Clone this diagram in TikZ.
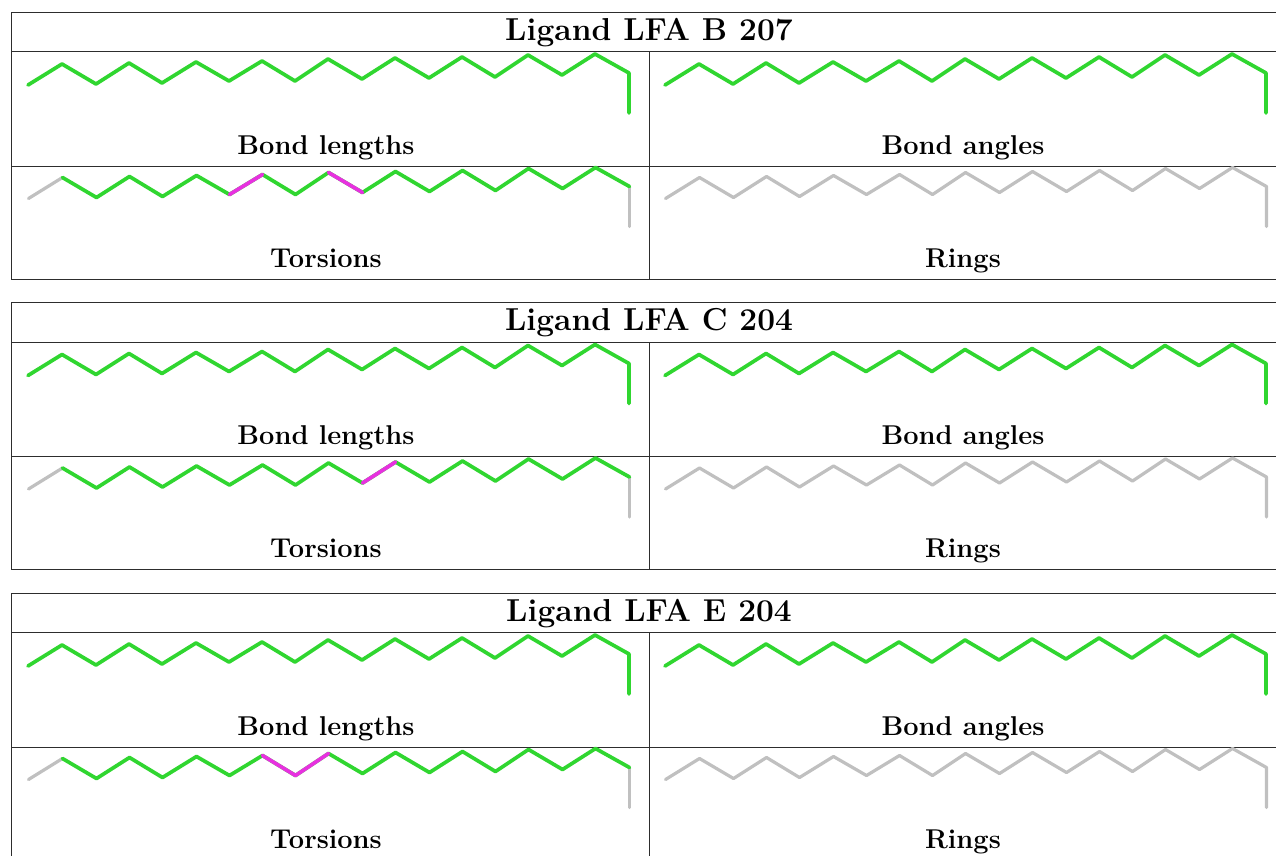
\documentclass[tikz,border=0pt]{standalone}
\usetikzlibrary{calc}
\definecolor{cgreen}{RGB}{48,214,48}
\definecolor{cmag}{RGB}{232,48,224}
\definecolor{cgrey}{RGB}{192,192,192}
\definecolor{rulec}{RGB}{45,45,45}
\tikzset{
  x=1pt,y=-1pt,
  rulel/.style={draw=rulec,line width=1pt},
  bond/.style={line width=3.7pt,line cap=round,line join=round},
  greybond/.style={line width=3.2pt,line cap=round,line join=round,cgrey},
  ttl/.style={font=\fontsize{31.7}{36}\selectfont\bfseries,inner sep=0pt,anchor=base},
  lbl/.style={font=\fontsize{27.2}{32}\selectfont\bfseries,inner sep=0pt,anchor=base}
}
\newcommand{\zigmid}[2]{(#1+34,#2+64) -- (#1+68,#2+84) -- (#1+101,#2+63) -- (#1+134,#2+83) -- (#1+168,#2+62) -- (#1+201,#2+81) -- (#1+234,#2+61) -- (#1+267,#2+81) -- (#1+300,#2+59) -- (#1+334,#2+79) -- (#1+367,#2+58) -- (#1+401,#2+78) -- (#1+434,#2+57) -- (#1+467,#2+77) -- (#1+500,#2+55) -- (#1+534,#2+75) -- (#1+567,#2+54) -- (#1+601,#2+73)}
\newcommand{\zig}[3]{%
 \draw[#3] (#1+0,#2+85) -- \zigmid{#1}{#2} -- (#1+601,#2+113);}
\newcommand{\onetable}[4]{%
 \begin{scope}[yshift=-#1pt]
 \draw[rulel] (1276,12) -- (11,12) -- (11,279) -- (1276,279);
 \draw[rulel] (11,51.5) -- (1276,51.5);
 \draw[rulel] (11,166) -- (1276,166);
 \draw[rulel] (649,51.5) -- (649,279);
 \zig{28}{0}{bond,cgreen}
 \zig{665}{0}{bond,cgreen}
 \draw[greybond] (28.5,198.5) -- (62.5,177.5);
 \draw[greybond] (629.5,186.5) -- (629.5,226.5);
 \draw[bond,cgreen] \zigmid{28.5}{113.5};
 #3
 \zig{665.5}{113.5}{greybond}
 \node[ttl] (#4title) at (649,40) {#2};
 \node[lbl] (#4bl) at (326,154) {Bond lengths};
 \node[lbl] (#4ba) at (963,154) {Bond angles};
 \node[lbl] (#4to) at (326,267) {Torsions};
 \node[lbl] (#4ri) at (963,267) {Rings};
 \end{scope}}
\begin{document}
\begin{tikzpicture}
\useasboundingbox (0,0) rectangle (1276,855);
\fill[white] (0,0) rectangle (1276,855);
\onetable{0}{Ligand LFA B 207}{%
 \draw[bond,cmag] (229.5,194.5) -- (262.5,174.5);
 \draw[bond,cmag] (328.5,172.5) -- (362.5,192.5);
}{a}
\onetable{290.5}{Ligand LFA C 204}{%
 \draw[bond,cmag] (362.5,192.5) -- (395.5,171.5);
}{b}
\onetable{581}{Ligand LFA E 204}{%
 \draw[bond,cmag] (262.5,174.5) -- (295.5,194.5) -- (328.5,172.5);
}{c}
\end{tikzpicture}
\end{document}
